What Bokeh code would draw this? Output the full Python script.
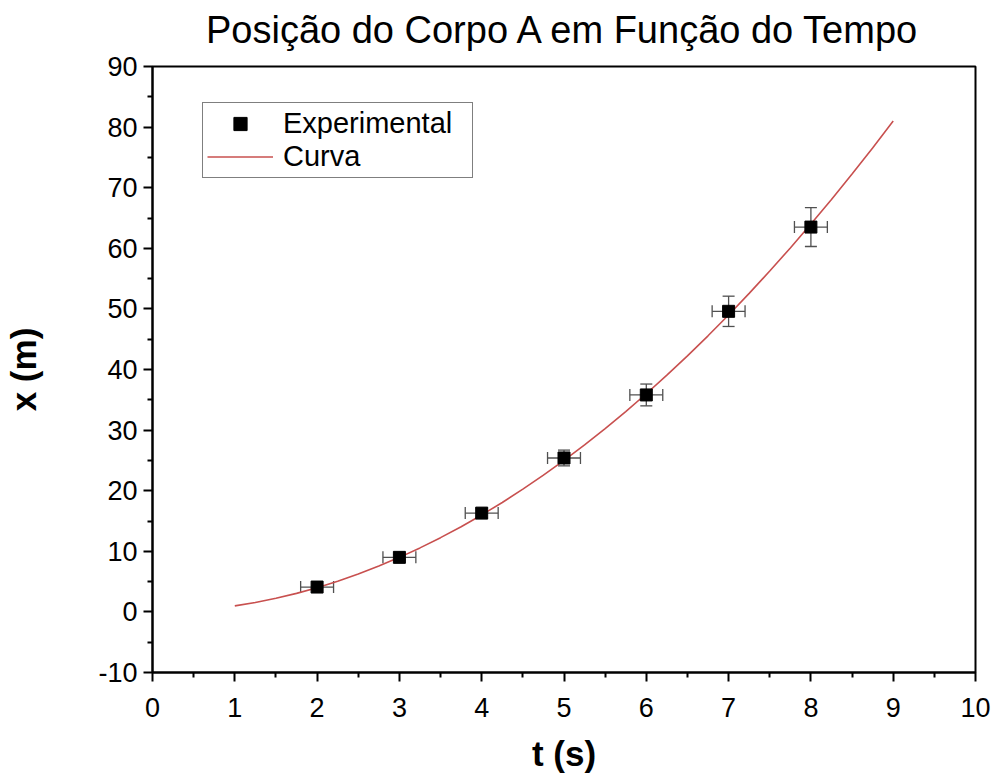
from bokeh.plotting import figure
from bokeh.models import (ColumnDataSource, Whisker, TeeHead, FixedTicker, Legend, LegendItem,
                          Range1d, LinearAxis)
from bokeh.embed import file_html
from bokeh.resources import INLINE

# data
t_exp = [2, 3, 4, 5, 6, 7, 8]
x_exp = [4.1, 9.0, 16.3, 25.4, 35.8, 49.6, 63.5]
t_err = [0.2, 0.2, 0.2, 0.2, 0.2, 0.2, 0.2]
x_err = [0.2, 0.45, 0.8, 1.3, 1.8, 2.5, 3.2]
t_curve = [1, 1.25, 1.5, 1.75, 2, 2.25, 2.5, 2.75, 3, 3.25, 3.5, 3.75, 4, 4.25, 4.5, 4.75,
           5, 5.25, 5.5, 5.75, 6, 6.25, 6.5, 6.75, 7, 7.25, 7.5, 7.75, 8, 8.25, 8.5, 8.75, 9]
x_curve = [1.0, 1.56, 2.25, 3.06, 4.0, 5.06, 6.25, 7.56, 9.0, 10.56, 12.25, 14.06, 16.0, 18.06,
           20.25, 22.56, 25.0, 27.56, 30.25, 33.06, 36.0, 39.06, 42.25, 45.56, 49.0, 52.56,
           56.25, 60.06, 64.0, 68.06, 72.25, 76.56, 81.0]
x_ticks = [0, 1, 2, 3, 4, 5, 6, 7, 8, 9, 10]
y_ticks = [-10, 0, 10, 20, 30, 40, 50, 60, 70, 80, 90]
title_text = "Posição do Corpo A em Função do Tempo"
x_label = "t (s)"
y_label = "x (m)"

FONT = "Liberation Sans"

p = figure(width=995, height=778, output_backend="svg", toolbar_location=None,
           x_range=Range1d(0, 10), y_range=Range1d(-10, 90),
           min_border_left=152, min_border_right=20, min_border_top=66, min_border_bottom=106)
p.title.visible = False

p.grid.visible = False
p.outline_line_color = "black"
p.outline_line_width = 2
p.background_fill_color = "white"
p.border_fill_color = "white"

src = ColumnDataSource(dict(t=t_exp, x=x_exp,
                            tl=[a - b for a, b in zip(t_exp, t_err)],
                            tu=[a + b for a, b in zip(t_exp, t_err)],
                            xl=[a - b for a, b in zip(x_exp, x_err)],
                            xu=[a + b for a, b in zip(x_exp, x_err)]))

curve = p.line(t_curve, x_curve, line_color="#c8504f", line_width=1.6)

wcol = "#505050"
p.add_layout(Whisker(source=src, base="t", lower="xl", upper="xu", dimension="height",
                     line_color=wcol, line_width=1.3,
                     upper_head=TeeHead(size=12, line_color=wcol, line_width=1.3),
                     lower_head=TeeHead(size=12, line_color=wcol, line_width=1.3)))
p.add_layout(Whisker(source=src, base="x", lower="tl", upper="tu", dimension="width",
                     line_color=wcol, line_width=1.3,
                     upper_head=TeeHead(size=12, line_color=wcol, line_width=1.3),
                     lower_head=TeeHead(size=12, line_color=wcol, line_width=1.3)))
pts = p.scatter("t", "x", source=src, marker="square", size=12, fill_color="black", line_color="black")

for ax in (p.xaxis[0], p.yaxis[0]):
    ax.axis_line_width = 2
    ax.major_tick_line_width = 2
    ax.minor_tick_line_width = 2
    ax.major_tick_out = 9
    ax.major_tick_in = 0
    ax.minor_tick_out = 5
    ax.minor_tick_in = 0
    ax.major_label_text_font = FONT
    ax.major_label_text_font_size = "27px"
    ax.major_label_text_color = "black"
    ax.axis_label_text_font = FONT
    ax.axis_label_text_font_size = "35px"
    ax.axis_label_text_font_style = "bold"
    ax.axis_label_text_color = "black"

p.xaxis[0].ticker = FixedTicker(ticks=x_ticks, minor_ticks=[v + 0.5 for v in x_ticks[:-1]])
p.yaxis[0].ticker = FixedTicker(ticks=y_ticks, minor_ticks=[v + 5 for v in y_ticks[:-1]])
p.yaxis[0].major_label_overrides = {v: str(v) for v in y_ticks}
p.xaxis[0].axis_label = x_label
p.yaxis[0].axis_label = y_label
p.xaxis[0].major_label_standoff = 16
p.yaxis[0].major_label_standoff = 6
p.xaxis[0].axis_label_standoff = 14
p.yaxis[0].axis_label_standoff = 52

# title drawn as the label of a bare axis above the frame
top = LinearAxis(ticker=FixedTicker(ticks=[]), axis_label=title_text,
                 axis_line_color=None, major_tick_line_color=None, minor_tick_line_color=None,
                 major_label_text_font_size="0px",
                 axis_label_text_font=FONT, axis_label_text_font_size="38px",
                 axis_label_text_font_style="normal", axis_label_text_color="black",
                 axis_label_standoff=16)
p.add_layout(top, "above")

legend = Legend(items=[LegendItem(label="Experimental", renderers=[pts]),
                       LegendItem(label="Curva", renderers=[curve])],
                location=(50, 494))
legend.label_text_font = FONT
legend.label_text_font_size = "29px"
legend.label_text_color = "black"
legend.glyph_width = 66
legend.glyph_height = 33
legend.label_height = 33
legend.label_width = 185
legend.spacing = 0
legend.padding = 4
legend.margin = 0
legend.label_standoff = 10
legend.border_line_color = "black"
legend.border_line_width = 1.2
legend.background_fill_alpha = 1
p.add_layout(legend, "center")

open("out.html", "w").write(file_html(p, INLINE))
